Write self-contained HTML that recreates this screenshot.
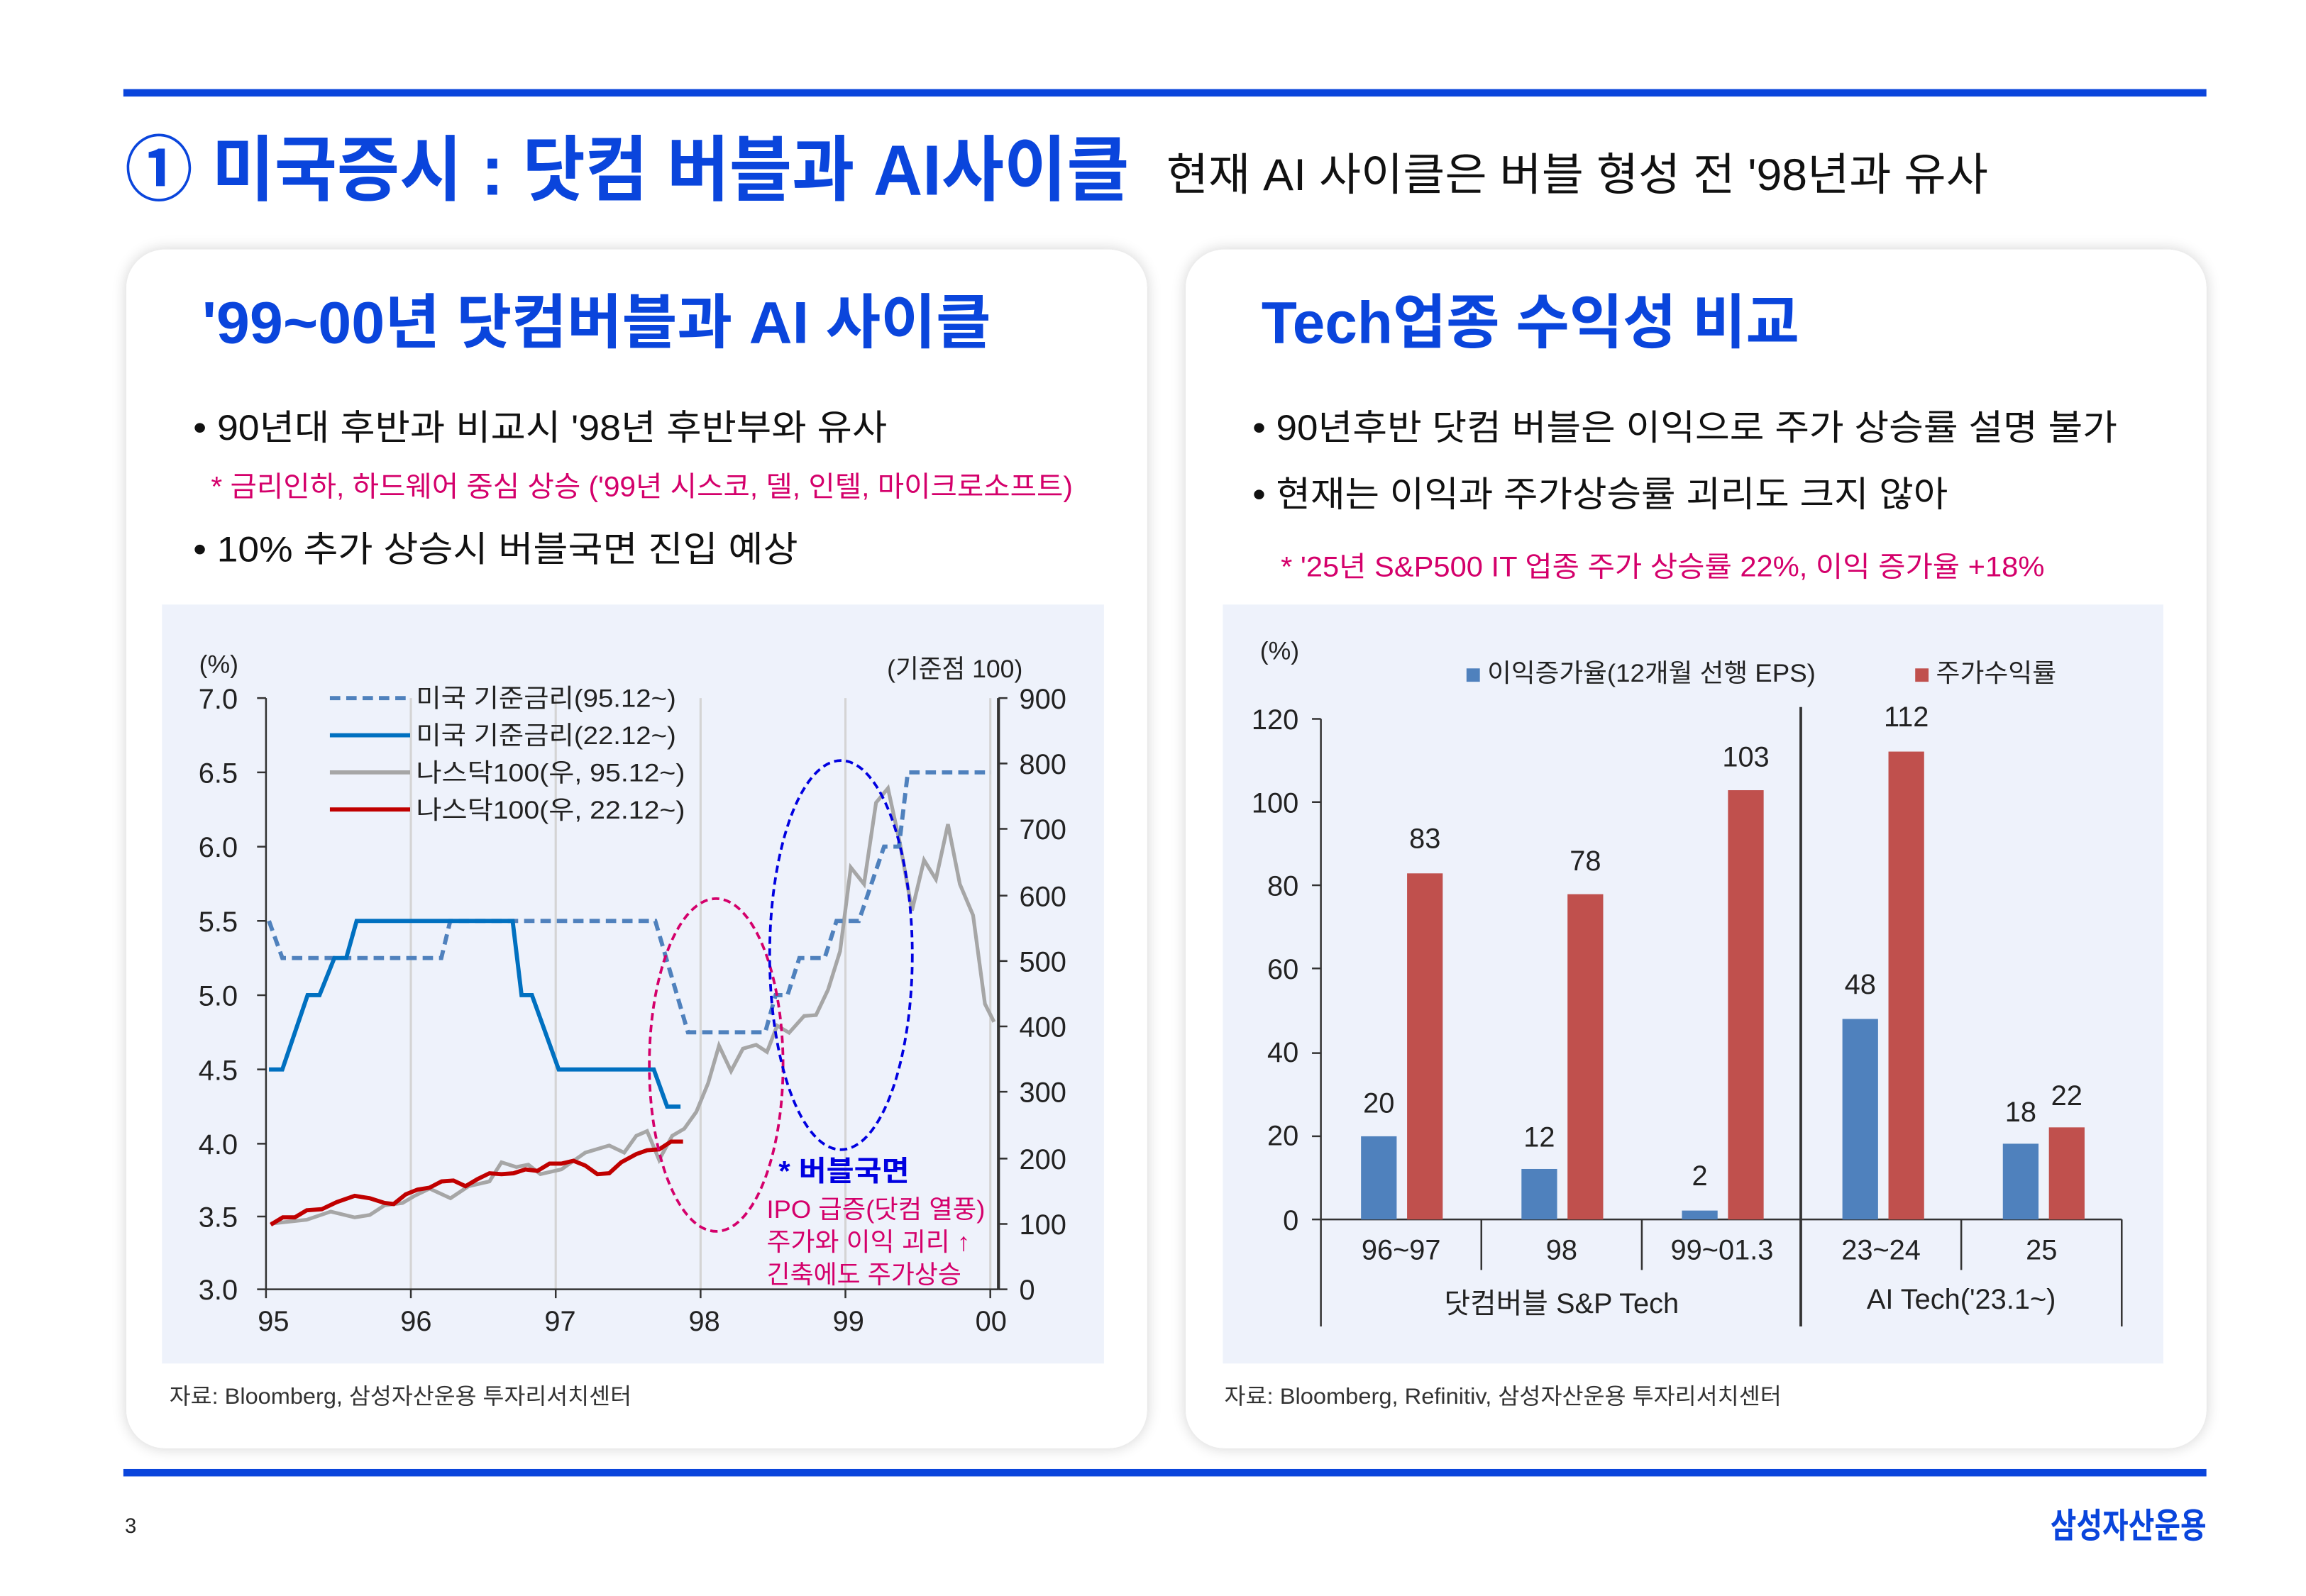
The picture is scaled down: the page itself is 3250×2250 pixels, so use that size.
<!DOCTYPE html>
<html><head><meta charset="utf-8"><style>
html,body{margin:0;padding:0;background:#fff;}
svg{display:block;}
text{font-family:"Liberation Sans","Noto Sans CJK KR",sans-serif;}
</style></head><body>
<svg width="3250" height="2250" viewBox="0 0 1552 1074.5" xmlns="http://www.w3.org/2000/svg">
<defs>
<filter id="sh" x="-5%" y="-5%" width="110%" height="110%"><feGaussianBlur in="SourceAlpha" stdDeviation="5"/><feOffset dy="0"/><feComponentTransfer><feFuncA type="linear" slope="0.18"/></feComponentTransfer><feMerge><feMergeNode/><feMergeNode in="SourceGraphic"/></feMerge></filter>
</defs>
<rect width="1552" height="1075" fill="#fff"/>
<rect x="83" y="60" width="1402" height="5" fill="#0a45dc"/>
<text x="84" y="131" font-size="48" font-weight="bold" fill="#0a45dc" textLength="676" lengthAdjust="spacingAndGlyphs">① 미국증시 : 닷컴 버블과 AI사이클</text>
<text x="785" y="128" font-size="30" fill="#111" textLength="553" lengthAdjust="spacingAndGlyphs">현재 AI 사이클은 버블 형성 전 '98년과 유사</text>

<rect x="85" y="168" width="687" height="807" rx="26" fill="#fff" filter="url(#sh)"/>
<rect x="798" y="168" width="687" height="807" rx="26" fill="#fff" filter="url(#sh)"/>

<text x="136" y="231" font-size="40" font-weight="bold" fill="#0a45dc" textLength="531" lengthAdjust="spacingAndGlyphs">'99~00년 닷컴버블과 AI 사이클</text>
<text x="130" y="296" font-size="24" fill="#111" textLength="467" lengthAdjust="spacingAndGlyphs">• 90년대 후반과 비교시 '98년 후반부와 유사</text>
<text x="142" y="334" font-size="19" fill="#d4006b" textLength="580" lengthAdjust="spacingAndGlyphs">* 금리인하, 하드웨어 중심 상승 ('99년 시스코, 델, 인텔, 마이크로소프트)</text>
<text x="130" y="378" font-size="24" fill="#111" textLength="407" lengthAdjust="spacingAndGlyphs">• 10% 추가 상승시 버블국면 진입 예상</text>

<text x="849" y="231" font-size="40" font-weight="bold" fill="#0a45dc" textLength="362" lengthAdjust="spacingAndGlyphs">Tech업종 수익성 비교</text>
<text x="843" y="296" font-size="24" fill="#111" textLength="582" lengthAdjust="spacingAndGlyphs">• 90년후반 닷컴 버블은 이익으로 주가 상승률 설명 불가</text>
<text x="843" y="341" font-size="24" fill="#111" textLength="468" lengthAdjust="spacingAndGlyphs">• 현재는 이익과 주가상승률 괴리도 크지 않아</text>
<text x="862" y="388" font-size="19" fill="#d4006b" textLength="514" lengthAdjust="spacingAndGlyphs">* '25년 S&amp;P500 IT 업종 주가 상승률 22%, 이익 증가율 +18%</text>

<!-- left chart -->
<rect x="109" y="407" width="634" height="511" fill="#eef2fb"/>
<g stroke="#d4d4d4" stroke-width="1.5">
<line x1="276.5" y1="470" x2="276.5" y2="868"/><line x1="374" y1="470" x2="374" y2="868"/><line x1="471.5" y1="470" x2="471.5" y2="868"/><line x1="569" y1="470" x2="569" y2="868"/><line x1="666.5" y1="470" x2="666.5" y2="868"/>
</g>
<g stroke="#333" stroke-width="1.2" fill="none">
<line x1="179" y1="470" x2="179" y2="868"/><line x1="179" y1="868" x2="672" y2="868"/>
<line x1="672" y1="470" x2="672" y2="868" stroke-width="2"/>
<path d="M173 470h6M173 520h6M173 570h6M173 620h6M173 670h6M173 720h6M173 770h6M173 819h6M173 868h6"/>
<path d="M672 470h6M672 514h6M672 558h6M672 603h6M672 647h6M672 691h6M672 735h6M672 780h6M672 824h6M672 868h6"/>
<path d="M179 868v6M276.5 868v6M374 868v6M471.5 868v6M569 868v6M666.5 868v6"/>
</g>
<g font-size="19" fill="#222" text-anchor="end">
<text x="160" y="477">7.0</text><text x="160" y="527">6.5</text><text x="160" y="577">6.0</text><text x="160" y="627">5.5</text><text x="160" y="677">5.0</text><text x="160" y="727">4.5</text><text x="160" y="777">4.0</text><text x="160" y="826">3.5</text><text x="160" y="875">3.0</text>
</g>
<g font-size="19" fill="#222">
<text x="686" y="477">900</text><text x="686" y="521">800</text><text x="686" y="565">700</text><text x="686" y="610">600</text><text x="686" y="654">500</text><text x="686" y="698">400</text><text x="686" y="742">300</text><text x="686" y="787">200</text><text x="686" y="831">100</text><text x="686" y="875">0</text>
<text x="134" y="453" font-size="17">(%)</text><text x="597" y="456" font-size="17">(기준점 100)</text>
</g>
<g font-size="19" fill="#222" text-anchor="middle">
<text x="184" y="896">95</text><text x="280" y="896">96</text><text x="377" y="896">97</text><text x="474" y="896">98</text><text x="571" y="896">99</text><text x="667" y="896">00</text>
</g>
<polyline fill="none" stroke="#a6a6a6" stroke-width="2.5" points="182.2,823.8 206.4,821.2 222.6,815.7 238.7,819.6 248.8,818 258.8,811.5 270.9,809.9 279,805.1 289.1,800.2 303.2,806.7 315.3,798.6 329.4,795.4 337.5,782.5 347.5,785.7 355.6,784.1 363.7,790.5 377.8,787.3 393.9,776 410,771.2 420.1,776 428.2,764.7 435.5,761.5 443.6,780.9 452.4,764.7 460.5,759.9 468.6,748.6 476.6,729.2 483.9,704 492,721.1 500,706 508.9,703.4 516.2,708.2 523,690.5 531.1,695.3 541.2,684 549.2,683.4 557.3,666.3 565.4,640.4 572.6,584 581.5,595.2 589.6,540.4 597.6,530.7 605.7,567.8 613.8,613 621.9,579.1 629.9,592 638,554.9 646,595.2 654.9,616.2 662.9,675.9 669,688"/>
<polyline fill="none" stroke="#c00000" stroke-width="2.8" points="182.2,824.5 190.3,819.6 198.4,819.6 206.4,814.8 216.5,814.1 226.6,809.3 238.7,805.1 248.8,806.7 258.8,809.9 264.9,810.6 273,804.1 281,800.9 289.1,799.6 297.2,795.4 305.2,794.8 313.3,798.6 321.4,793.8 329.4,789.9 337.5,790.5 345.6,789.9 353.6,787.3 361.7,788.3 369.8,783.4 377.8,783.4 385.9,781.5 393.9,784.7 402,790.5 410,789.9 418.1,782.5 428.2,777 435.5,774.4 443.6,773.8 451.6,768.6 459.7,768.6"/>
<polyline fill="none" stroke="#4f81bd" stroke-width="2.8" stroke-dasharray="7,4" points="181,620 190,645 297,645 303,620 441,620 463,695 515,695 522,670 530,670 538,645 555,645 563,620 578,620 595,570 605,570 611,520 667,520"/>
<polyline fill="none" stroke="#0070c0" stroke-width="2.8" points="181,720 190,720 207,670 215,670 225,645 233,645 240,620 345,620 351,670 358,670 376,720 440,720 449,745 458,745"/>
<ellipse cx="482" cy="717" rx="45" ry="112" fill="none" stroke="#d4006b" stroke-width="1.8" stroke-dasharray="5,3"/>
<ellipse cx="566" cy="643" rx="48" ry="131" fill="none" stroke="#0000e0" stroke-width="1.8" stroke-dasharray="5,3"/>
<line x1="222" y1="470" x2="276" y2="470" stroke="#4f81bd" stroke-width="2.8" stroke-dasharray="7,4"/>
<line x1="222" y1="495" x2="276" y2="495" stroke="#0070c0" stroke-width="2.8"/>
<line x1="222" y1="520" x2="276" y2="520" stroke="#a6a6a6" stroke-width="2.8"/>
<line x1="222" y1="545" x2="276" y2="545" stroke="#c00000" stroke-width="2.8"/>
<g font-size="17" fill="#222">
<text x="280" y="476" textLength="175" lengthAdjust="spacingAndGlyphs">미국 기준금리(95.12~)</text><text x="280" y="501" textLength="175" lengthAdjust="spacingAndGlyphs">미국 기준금리(22.12~)</text><text x="280" y="526" textLength="181" lengthAdjust="spacingAndGlyphs">나스닥100(우, 95.12~)</text><text x="280" y="551" textLength="181" lengthAdjust="spacingAndGlyphs">나스닥100(우, 22.12~)</text>
</g>
<text x="524" y="795" font-size="19" font-weight="bold" fill="#0000e0" textLength="88" lengthAdjust="spacingAndGlyphs">* 버블국면</text>
<g font-size="17" fill="#d4006b"><text x="516" y="820" textLength="147" lengthAdjust="spacingAndGlyphs">IPO 급증(닷컴 열풍)</text><text x="516" y="842" textLength="137" lengthAdjust="spacingAndGlyphs">주가와 이익 괴리 ↑</text><text x="516" y="864" textLength="131" lengthAdjust="spacingAndGlyphs">긴축에도 주가상승</text></g>
<text x="114" y="945" font-size="15" fill="#333" textLength="311" lengthAdjust="spacingAndGlyphs">자료: Bloomberg, 삼성자산운용 투자리서치센터</text>

<!-- right chart -->
<rect x="823" y="407" width="633" height="511" fill="#eef2fb"/>
<text x="848" y="444" font-size="17" fill="#222">(%)</text>
<rect x="987" y="450" width="9" height="9" fill="#4f81bd"/><text x="1001" y="459" font-size="17" fill="#222" textLength="221" lengthAdjust="spacingAndGlyphs">이익증가율(12개월 선행 EPS)</text>
<rect x="1289" y="450" width="9" height="9" fill="#c0504d"/><text x="1303" y="459" font-size="17" fill="#222" textLength="81" lengthAdjust="spacingAndGlyphs">주가수익률</text>
<g font-size="19" fill="#222" text-anchor="end">
<text x="874" y="491">120</text><text x="874" y="547">100</text><text x="874" y="603">80</text><text x="874" y="659">60</text><text x="874" y="715">40</text><text x="874" y="771">20</text><text x="874" y="828">0</text>
</g>
<g stroke="#333" stroke-width="1.2">
<line x1="889" y1="484" x2="889" y2="893"/><line x1="889" y1="821" x2="1428" y2="821"/>
<line x1="1428" y1="821" x2="1428" y2="893"/><line x1="997" y1="821" x2="997" y2="855"/><line x1="1105" y1="821" x2="1105" y2="855"/><line x1="1320" y1="821" x2="1320" y2="855"/>
<line x1="1212" y1="476" x2="1212" y2="893" stroke-width="1.8"/>
<path d="M883 484h6M883 540h6M883 596h6M883 652h6M883 709h6M883 765h6M883 821h6"/>
</g>
<g fill="#4f81bd">
<rect x="916" y="765" width="24" height="56"/><rect x="1024" y="787" width="24" height="34"/><rect x="1132" y="815" width="24" height="6"/><rect x="1240" y="686" width="24" height="135"/><rect x="1348" y="770" width="24" height="51"/>
</g>
<g fill="#c0504d">
<rect x="947" y="588" width="24" height="233"/><rect x="1055" y="602" width="24" height="219"/><rect x="1163" y="532" width="24" height="289"/><rect x="1271" y="506" width="24" height="315"/><rect x="1379" y="759" width="24" height="62"/>
</g>
<g font-size="19" fill="#222" text-anchor="middle">
<text x="928" y="749">20</text><text x="959" y="571">83</text><text x="1036" y="772">12</text><text x="1067" y="586">78</text><text x="1144" y="798">2</text><text x="1175" y="516">103</text><text x="1252" y="669">48</text><text x="1283" y="489">112</text><text x="1360" y="755">18</text><text x="1391" y="744">22</text>
<text x="943" y="848">96~97</text><text x="1051" y="848">98</text><text x="1159" y="848">99~01.3</text><text x="1266" y="848">23~24</text><text x="1374" y="848">25</text>
<text x="1051" y="884">닷컴버블 S&amp;P Tech</text><text x="1320" y="881">AI Tech('23.1~)</text>
</g>
<text x="824" y="945" font-size="15" fill="#333" textLength="375" lengthAdjust="spacingAndGlyphs">자료: Bloomberg, Refinitiv, 삼성자산운용 투자리서치센터</text>

<rect x="83" y="989" width="1402" height="5" fill="#0a45dc"/>
<text x="84" y="1032" font-size="14" fill="#222">3</text>
<text x="1485" y="1035" font-size="23" font-weight="bold" fill="#0a45dc" text-anchor="end" textLength="105" lengthAdjust="spacingAndGlyphs">삼성자산운용</text>
</svg>
</body></html>
